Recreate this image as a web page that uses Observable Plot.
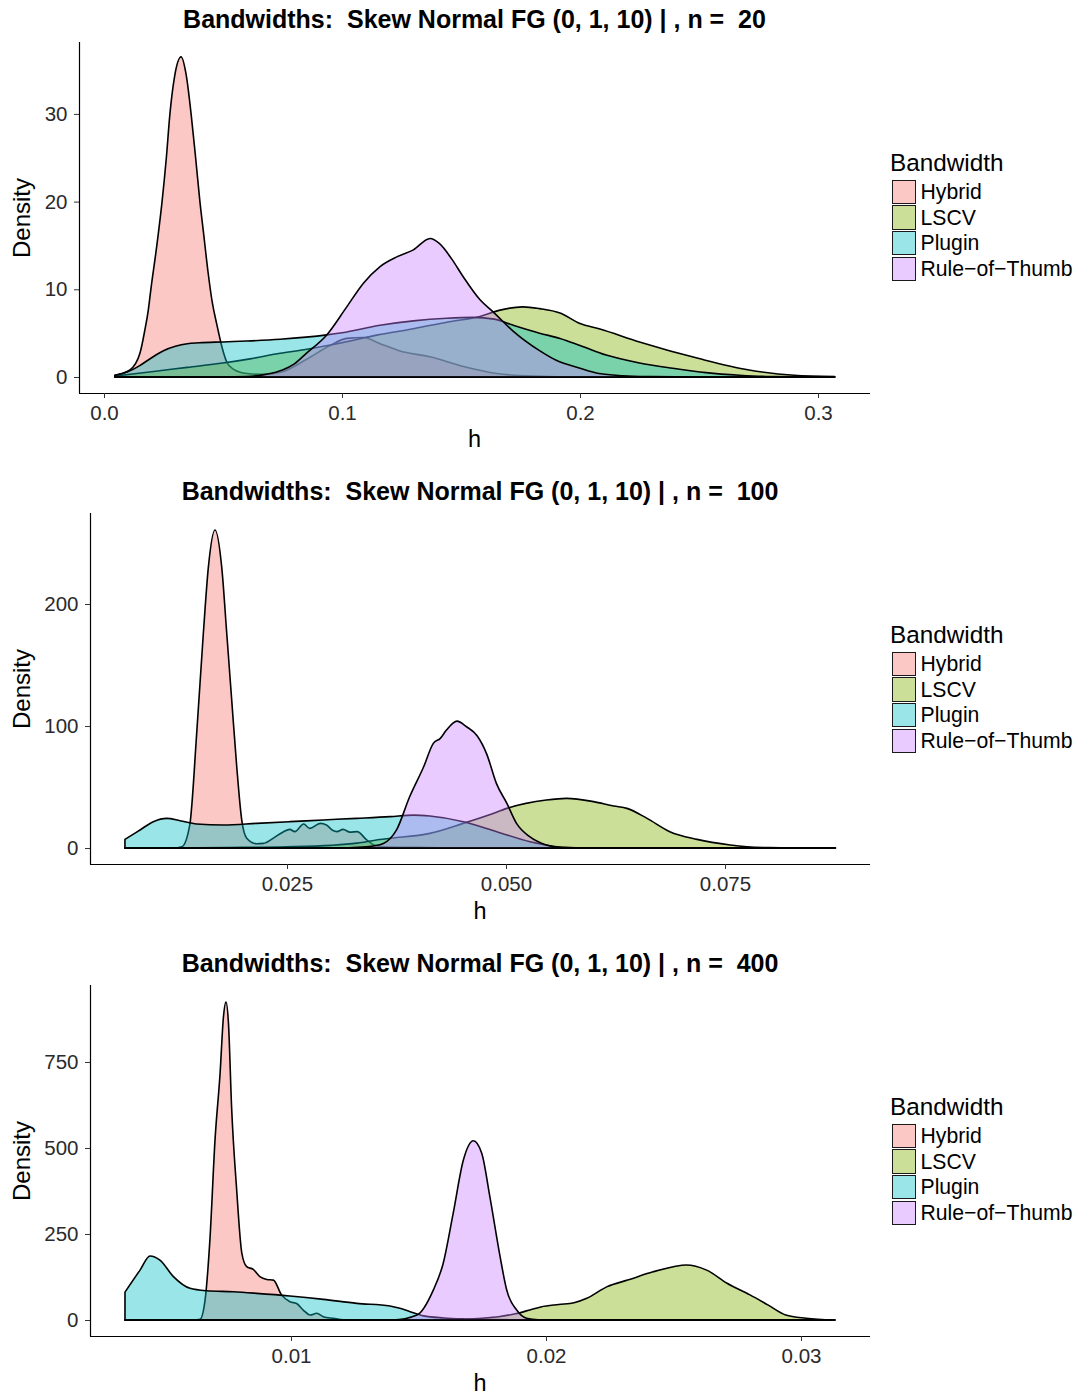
<!DOCTYPE html>
<html><head><meta charset="utf-8">
<script src="https://cdn.jsdelivr.net/npm/d3@7"></script>
<script src="https://cdn.jsdelivr.net/npm/@observablehq/plot@0.6"></script>
<style>
body{margin:0;background:#fff;font-family:"Liberation Sans",Arial,Helvetica,sans-serif;}
#root{position:relative;width:1080px;height:1397px;overflow:hidden;background:#fff;}
.panel{position:absolute;left:0;width:1080px;}
.panel svg{position:absolute;left:0;top:0;}
.txt{position:absolute;line-height:1;white-space:pre;color:#000;}
.title{font-weight:bold;font-size:25px;transform:translate(-50%,-50%);}
.axt{font-size:23.5px;transform:translate(-50%,-50%);}
.axty{font-size:24px;transform:translate(-50%,-50%) rotate(-90deg);}
.legt{font-size:24.3px;transform:translateY(-50%);}
.legl{font-size:21.2px;transform:translateY(-50%);}
.key{position:absolute;box-sizing:border-box;border:1.5px solid #1a1a1a;}
</style></head><body><div id="root"></div>
<script>
// ---------- data ----------
const groups = ["Hybrid", "LSCV", "Plugin", "Rule-of-Thumb"];
const legendLabels = ["Hybrid", "LSCV", "Plugin", "Rule\u2212of\u2212Thumb"];
const colors = ["#F8766D", "#7CAE00", "#00BFC4", "#C77CFF"];
const sampleSizes = [20, 100, 400];

// n = 20 : [h, density]
const n20_Hybrid = [[0.0046,0.2],[0.0109,0.8],[0.0151,2.7],[0.0172,5.4],[0.0186,7.6],[0.0197,10],[0.0222,15],[0.0244,20],[0.0262,25],[0.0277,30],[0.0295,34],[0.0324,36.5],[0.0345,34.5],[0.0366,30],[0.0385,25],[0.0403,20],[0.0418,16.5],[0.0437,12],[0.0455,8.5],[0.0474,6.0],[0.0494,3.6],[0.0516,1.7],[0.0543,0.9],[0.06,0.4],[0.067,0.3],[0.075,0.6],[0.085,2.0],[0.095,3.6],[0.102,4.4],[0.109,4.5],[0.116,3.8],[0.124,3.0],[0.137,2.3],[0.151,1.2],[0.165,0.4],[0.18,0.1],[0.2,0],[0.307,0]];
const n20_LSCV = [[0.0046,0.1],[0.02,0.6],[0.035,1.1],[0.05,1.6],[0.062,2.1],[0.074,2.7],[0.084,3.1],[0.1,3.9],[0.115,4.8],[0.13,5.5],[0.145,6.3],[0.158,6.9],[0.166,7.6],[0.176,8.0],[0.183,7.8],[0.1916,7.3],[0.2,6.1],[0.208,5.5],[0.225,4.0],[0.25,2.1],[0.271,0.8],[0.29,0.2],[0.307,0.05]];
const n20_Plugin = [[0.0046,0.2],[0.01,0.6],[0.015,1.3],[0.02,2.2],[0.025,3.0],[0.03,3.5],[0.035,3.8],[0.04,3.9],[0.05,4.0],[0.06,4.1],[0.074,4.3],[0.0936,4.8],[0.1,5.05],[0.116,5.9],[0.13,6.4],[0.144,6.7],[0.155,6.8],[0.164,6.6],[0.172,5.9],[0.183,5.0],[0.1916,4.4],[0.2,3.6],[0.211,2.5],[0.225,1.6],[0.239,1.0],[0.253,0.5],[0.267,0.2],[0.28,0.05],[0.307,0]];
const n20_RoT = [[0.0046,0],[0.05,0],[0.06,0.05],[0.068,0.3],[0.075,0.8],[0.08,1.5],[0.085,2.7],[0.0936,4.8],[0.102,8.0],[0.109,10.7],[0.116,12.6],[0.123,13.7],[0.13,14.5],[0.137,15.8],[0.141,15.2],[0.146,13.5],[0.151,11.4],[0.158,8.8],[0.1636,7.4],[0.172,5.2],[0.183,3.0],[0.19,1.9],[0.2,1.0],[0.208,0.4],[0.218,0.15],[0.23,0.05],[0.25,0],[0.307,0]];

// n = 100
const n100_Hybrid = [[0.0065,0],[0.012,0],[0.013,1],[0.0139,18.9],[0.01469,94],[0.01545,176],[0.01602,230],[0.01678,260.7],[0.01755,230],[0.01812,176],[0.01869,121],[0.01926,66.7],[0.01983,23],[0.0204,8],[0.0215,3.5],[0.0223,3.8],[0.0234,7.9],[0.0246,13.4],[0.0253,15.3],[0.0259,13.4],[0.0269,19.7],[0.0276,16.1],[0.0288,20.2],[0.0295,18.9],[0.0302,14.5],[0.0307,13.4],[0.0314,15.3],[0.0322,13.0],[0.033,13.4],[0.0341,6.6],[0.0349,2.5],[0.036,1.1],[0.04,0.5],[0.045,0],[0.0876,0]];
const n100_LSCV = [[0.0065,0],[0.015,0.2],[0.02,0.5],[0.025,1.0],[0.03,2.2],[0.033,4],[0.0356,7],[0.0368,8],[0.0413,12],[0.0451,20.2],[0.0482,27.5],[0.0501,32.5],[0.0546,39.3],[0.0569,40.7],[0.06,38],[0.0623,34.4],[0.0638,32.5],[0.0661,24.3],[0.0687,13.4],[0.0718,7.1],[0.0756,2.5],[0.0775,1.1],[0.08,0.3],[0.083,0.05],[0.0876,0]];
const n100_Plugin = [[0.0065,7.1],[0.00822,14.8],[0.00974,21.6],[0.01127,24.3],[0.01279,22.4],[0.01469,19.7],[0.01773,18.9],[0.02154,20.2],[0.02534,21.6],[0.02914,23],[0.03296,24.3],[0.03676,25.7],[0.03942,27],[0.04132,26.2],[0.04513,21.6],[0.04894,13.4],[0.05274,5.2],[0.05579,1.1],[0.0585,0.2],[0.062,0],[0.0876,0]];
const n100_RoT = [[0.0065,0],[0.03,0],[0.0341,1.1],[0.036,3.8],[0.0375,14.8],[0.039,42],[0.0406,66.6],[0.0417,85.8],[0.0425,89.9],[0.0432,96.7],[0.0444,104],[0.0455,99.4],[0.0467,92],[0.0478,77],[0.0489,53],[0.0501,36.6],[0.0512,20.2],[0.0527,9.3],[0.0546,2.5],[0.0565,0.3],[0.06,0],[0.0876,0]];

// n = 400
const n400_Hybrid = [[0.00349,0],[0.0062,0],[0.00643,2],[0.00663,58],[0.00682,233],[0.00702,523],[0.00722,718],[0.00735,880],[0.00745,924],[0.00755,860],[0.00767,620],[0.00787,378],[0.00807,195],[0.00826,155],[0.00852,147],[0.00878,126],[0.00905,118],[0.00931,116],[0.00963,73],[0.00996,53],[0.01022,48],[0.01048,29],[0.01075,14.5],[0.01101,19.5],[0.01127,9.7],[0.01166,4.8],[0.01205,0.5],[0.013,0],[0.03133,0]];
const n400_LSCV = [[0.00349,0],[0.0145,0],[0.0155,0.5],[0.0165,2],[0.0175,5],[0.0182,10],[0.0188,18],[0.0194,30],[0.0198,38],[0.0205,45],[0.0211,50],[0.0216,63],[0.0224,97],[0.0232,116],[0.0242,140],[0.025,155],[0.0255,160],[0.0263,145],[0.0271,107],[0.028,73],[0.0287,44],[0.0294,14.5],[0.0302,5],[0.0313,0]];
const n400_Plugin = [[0.00349,81],[0.00408,145],[0.00447,186],[0.00486,174],[0.00539,126],[0.00604,92],[0.00669,85],[0.00774,82],[0.00865,77.5],[0.00996,69.8],[0.01127,60],[0.01258,48.4],[0.01388,40.7],[0.01427,34],[0.01467,24.2],[0.0152,12],[0.016,6],[0.0168,3],[0.0178,1],[0.019,0.2],[0.021,0],[0.03133,0]];
const n400_RoT = [[0.00349,0],[0.014,0],[0.01494,14.5],[0.01558,87],[0.01597,165],[0.01636,310],[0.01676,465],[0.01715,521],[0.01748,485],[0.0178,358],[0.0182,184],[0.01846,87],[0.01885,29],[0.01924,5],[0.0197,0.5],[0.021,0],[0.03133,0]];

// axis ticks
const xTicks20 = [0, 0.1, 0.2, 0.3];
const yTicks20 = [0, 10, 20, 30];
const xTicks100 = [0.025, 0.05, 0.075];
const yTicks100 = [0, 100, 200];
const xTicks400 = [0.01, 0.02, 0.03];
const yTicks400 = [0, 250, 500, 750];

// ---------- build ----------
function toRows(series) {
  const rows = [];
  series.forEach((s, i) => s.forEach(([h, d]) => rows.push({h, density: d, group: groups[i]})));
  return rows;
}

const panels = [
  {n: sampleSizes[0], series: [n20_Hybrid, n20_LSCV, n20_Plugin, n20_RoT], xTicks: xTicks20, yTicks: yTicks20,
   xfmt: d3.format(".1f"), xDomain: [-0.0105, 0.32185], yDomain: [-1.824, 38.2],
   top: 0, height: 472, ml: 79, mt: 42, mb: 79},
  {n: sampleSizes[1], series: [n100_Hybrid, n100_LSCV, n100_Plugin, n100_RoT], xTicks: xTicks100, yTicks: yTicks100,
   xfmt: d3.format(".3f"), xDomain: [0.002511, 0.09155], yDomain: [-13.1, 274.6],
   top: 472, height: 472, ml: 90, mt: 41, mb: 80},
  {n: sampleSizes[2], series: [n400_Hybrid, n400_LSCV, n400_Plugin, n400_RoT], xTicks: xTicks400, yTicks: yTicks400,
   xfmt: d3.format(".2f"), xDomain: [0.002118, 0.032706], yDomain: [-46.5, 973.8],
   top: 944, height: 453, ml: 90, mt: 41, mb: 61}
];

const root = document.getElementById("root");
const MR = 210;

function addText(parent, cls, text, x, y) {
  const d = document.createElement("div");
  d.className = "txt " + cls;
  d.textContent = text;
  d.style.left = x + "px";
  d.style.top = y + "px";
  parent.appendChild(d);
  return d;
}

for (const p of panels) {
  const div = document.createElement("div");
  div.className = "panel";
  div.style.top = p.top + "px";
  div.style.height = p.height + "px";
  root.appendChild(div);

  const chart = Plot.plot({
    width: 1080, height: p.height,
    marginLeft: p.ml, marginRight: MR, marginTop: p.mt, marginBottom: p.mb,
    style: {fontFamily: "'Liberation Sans', Arial, sans-serif", fontSize: "20.5px", color: "#2b2b2b", background: "transparent", overflow: "visible"},
    x: {domain: p.xDomain, label: null},
    y: {domain: p.yDomain, label: null},
    color: {domain: groups, range: colors},
    marks: [
      Plot.areaY(toRows(p.series), {x: "h", y1: 0, y2: "density", z: "group", fill: "group", fillOpacity: 0.4,
        stroke: "#000", strokeWidth: 1.6, strokeLinejoin: "round", curve: "monotone-x"}),
      Plot.ruleX([p.xDomain[0]], {stroke: "#000", strokeWidth: 1.2}),
      Plot.ruleY([p.yDomain[0]], {stroke: "#000", strokeWidth: 1.2}),
      Plot.axisX({ticks: p.xTicks, tickFormat: p.xfmt, tickSize: 5, tickPadding: 7, label: null, stroke: "#333"}),
      Plot.axisY({ticks: p.yTicks, tickFormat: d3.format("d"), tickSize: 5, tickPadding: 7, label: null, stroke: "#333"})
    ]
  });
  div.appendChild(chart);

  const cx = (p.ml + (1080 - MR)) / 2;
  const cy = (p.mt + (p.height - p.mb)) / 2;
  addText(div, "title", `Bandwidths:  Skew Normal FG (0, 1, 10) | , n =  ${p.n}`, cx, 19);
  addText(div, "axt", "h", cx, 440);
  addText(div, "axty", "Density", 22, cy);

  // legend
  addText(div, "legt", "Bandwidth", 890, 163);
  groups.forEach((g, i) => {
    const k = document.createElement("div");
    k.className = "key";
    const c = d3.color(colors[i]); c.opacity = 0.4;
    k.style.background = c.formatRgb();
    k.style.left = "891.5px";
    k.style.top = (179.5 + i * 25.7) + "px";
    k.style.width = "24px";
    k.style.height = "24.5px";
    div.appendChild(k);
    addText(div, "legl", legendLabels[i], 920.5, 192 + i * 25.7);
  });
}
</script></body></html>
